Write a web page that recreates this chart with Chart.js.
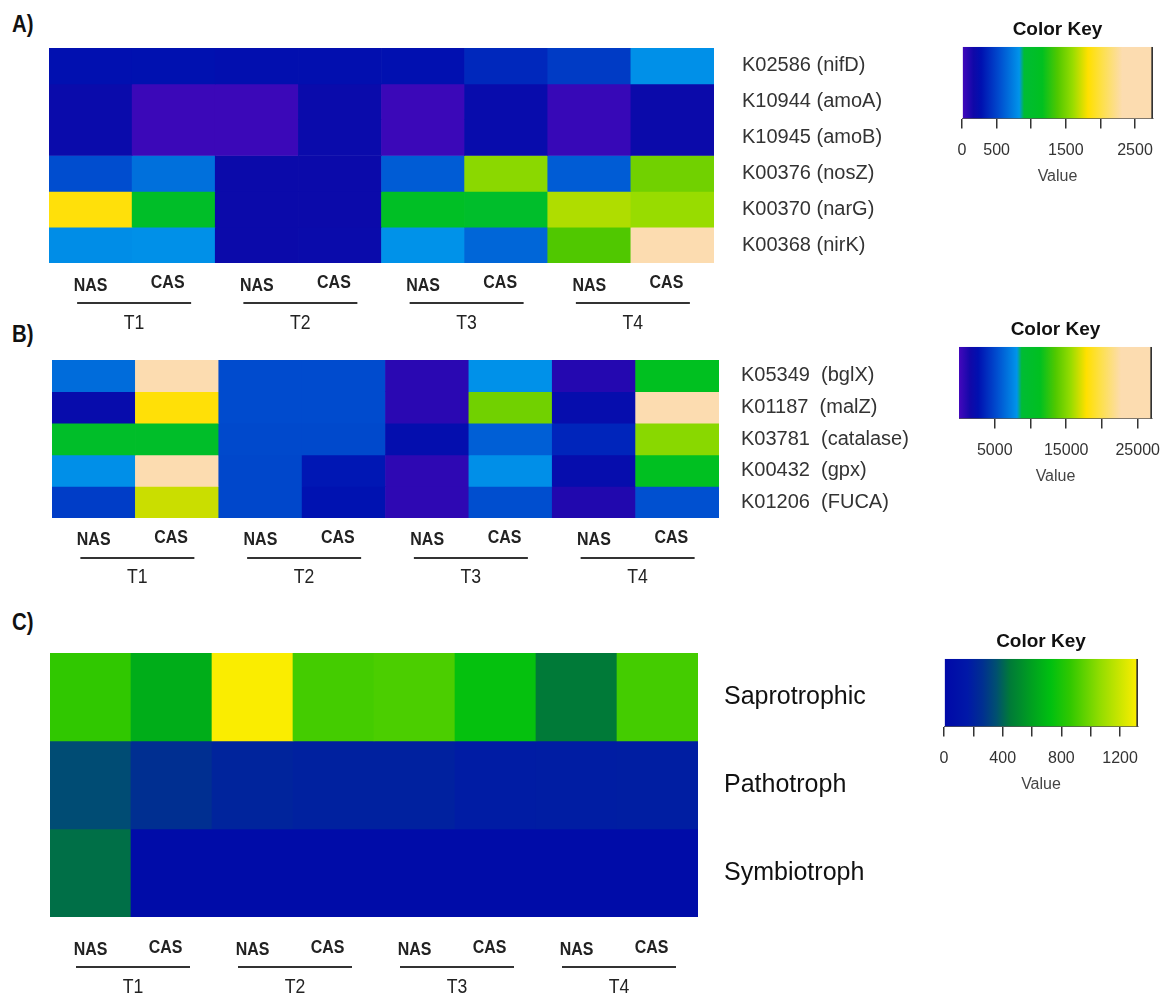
<!DOCTYPE html>
<html>
<head>
<meta charset="utf-8">
<title>Functional gene heatmaps</title>
<script src="https://cdn.jsdelivr.net/npm/chart.js@4.4.1/dist/chart.umd.min.js"></script>
<style>
  html, body { margin: 0; padding: 0; background: #fff; }
  #page { position: relative; width: 1166px; height: 998px; overflow: hidden; }
  canvas { position: absolute; }
  .tag {
    position: absolute;
    font: bold 24px "Liberation Sans", Arial, sans-serif;
    color: #111;
    transform: scaleX(0.85);
    transform-origin: left center;
  }
</style>
</head>
<body>
<div id="page">
  <div class="tag" style="left:12px;top:10px">A)</div>
  <div class="tag" style="left:12px;top:320px">B)</div>
  <div class="tag" style="left:12px;top:608px">C)</div>

  <canvas id="heat-a" width="920" height="340" style="left:0;top:0"></canvas>
  <canvas id="heat-b" width="920" height="260" style="left:0;top:340px"></canvas>
  <canvas id="heat-c" width="920" height="398" style="left:0;top:600px"></canvas>

  <canvas id="key-a" width="271" height="168" style="left:922px;top:18px"></canvas>
  <canvas id="key-b" width="273" height="168" style="left:919px;top:318px"></canvas>
  <canvas id="key-c" width="274" height="164" style="left:904px;top:630px"></canvas>
</div>

<script>
// ---- data ----
const COLS = ["NAS", "CAS", "NAS", "CAS", "NAS", "CAS", "NAS", "CAS"];
const GROUPS = ["T1", "T2", "T3", "T4"];

// A) nitrogen cycle genes
const GENES_A = ["K02586 (nifD)", "K10944 (amoA)", "K10945 (amoB)", "K00376 (nosZ)", "K00370 (narG)", "K00368 (nirK)"];
const nifD = [270, 280, 260, 260, 270, 380, 460, 810];
const amoA = [210, 30, 30, 210, 30, 220, 40, 200];
const amoB = [210, 30, 30, 210, 30, 220, 40, 200];
const nosZ = [540, 680, 200, 200, 600, 1560, 600, 1480];
const narG = [1850, 1060, 200, 200, 1100, 1020, 1650, 1600];
const nirK = [800, 810, 200, 210, 820, 640, 1380, 2600];

// B) carbon / oxidative stress genes
const GENES_B = ["K05349  (bglX)", "K01187  (malZ)", "K03781  (catalase)", "K00432  (gpx)", "K01206  (FUCA)"];
const bglX = [6500, 23500, 5200, 5200, 800, 8000, 1000, 11300];
const malZ = [2200, 18000, 5200, 5200, 800, 14500, 2300, 25500];
const catalase = [10200, 10200, 5100, 5100, 2400, 6000, 3600, 15200];
const gpx = [7900, 23000, 5000, 3000, 700, 7900, 2300, 11200];
const FUCA = [4600, 16700, 5000, 2800, 700, 5300, 1100, 5400];

// C) fungal trophic modes
const TROPHS_C = ["Saprotrophic", "Pathotroph", "Symbiotroph"];
const saprotrophic = [860, 650, 1310, 900, 915, 740, 450, 900];
const pathotroph = [345, 260, 210, 200, 200, 175, 180, 185];
const symbiotroph = [425, 40, 40, 40, 40, 40, 40, 40];

// colour keys
const KEY_A_MAX = 2760;
const KEY_A_TICKS = [0, 500, 1000, 1500, 2000, 2500];
const KEY_A_LABELS = [0, 500, 1500, 2500];
const KEY_B_MAX = 27000;
const KEY_B_TICKS = [5000, 10000, 15000, 20000, 25000];
const KEY_B_LABELS = [5000, 15000, 25000];
const KEY_C_MAX = 1322;
const KEY_C_TICKS = [0, 200, 400, 600, 800, 1000, 1200];
const KEY_C_LABELS = [0, 400, 800, 1200];

// ---- colour ramps ----
const RAMP_AB = [
    [0.00, "#4408bc"],
    [0.06, "#1008a8"],
    [0.10, "#0010b0"],
    [0.20, "#0050d0"],
    [0.30, "#0094ea"],
    [0.325, "#00bc34"],
    [0.42, "#00c020"],
    [0.50, "#50c800"],
    [0.58, "#98dc00"],
    [0.66, "#ffe000"],
    [0.74, "#fde050"],
    [0.84, "#fcdcb0"],
    [1.00, "#fcdcb0"],
];
const RAMP_C = [
    [0.00, "#0008a8"],
    [0.12, "#0018a8"],
    [0.20, "#003090"],
    [0.27, "#005070"],
    [0.34, "#007a38"],
    [0.45, "#00a020"],
    [0.55, "#00c010"],
    [0.65, "#30c800"],
    [0.80, "#90dc00"],
    [1.00, "#ffee00"],
];

function hexRgb(h) {
    const n = parseInt(h.slice(1), 16);
    return [(n >> 16) & 255, (n >> 8) & 255, n & 255];
}

function colorAt(ramp, t) {
    t = Math.max(0, Math.min(1, t));
    for (let i = 1; i < ramp.length; i++) {
        if (t <= ramp[i][0]) {
            const [p0, c0] = ramp[i - 1];
            const [p1, c1] = ramp[i];
            const f = p1 === p0 ? 0 : (t - p0) / (p1 - p0);
            const a = hexRgb(c0), b = hexRgb(c1);
            const rgb = a.map((v, k) => Math.round(v + (b[k] - v) * f));
            return `rgb(${rgb.join(",")})`;
        }
    }
    return ramp[ramp.length - 1][1];
}

// condensed text, like the Arial Narrow labels of the figure
function narrowText(ctx, text, x, y, font, color) {
    ctx.save();
    ctx.translate(x, y);
    ctx.scale(0.84, 1);
    ctx.font = font;
    ctx.fillStyle = color;
    ctx.textAlign = "center";
    ctx.textBaseline = "middle";
    ctx.fillText(text, 0, 0);
    ctx.restore();
}

// row names on the right, NAS/CAS and T1..T4 underneath
const heatLabels = {
    id: "heatLabels",
    afterDraw(chart, args, opts) {
        const { ctx, chartArea, scales } = chart;
        const x = scales.x, y = scales.y;
        ctx.save();
        ctx.font = opts.rowFont;
        ctx.fillStyle = opts.rowColor;
        ctx.textAlign = "left";
        ctx.textBaseline = "middle";
        chart.data.datasets.forEach((ds, i) => {
            ctx.fillText(ds.label, chartArea.right + opts.rowGap, y.getPixelForValue(i + 0.5));
        });

        const b = chartArea.bottom;
        chart.data.labels.forEach((lab, i) => {
            const cas = i % 2 === 1;
            const cx = x.getPixelForValue(i) + (cas ? -6 : 0);
            const cy = b + (cas ? opts.casDy : opts.nasDy);
            narrowText(ctx, lab, cx, cy, 'bold 19px "Liberation Sans", Arial, sans-serif', "#222");
        });

        GROUPS.forEach((g, k) => {
            const gx = (x.getPixelForValue(2 * k) + x.getPixelForValue(2 * k + 1)) / 2 + 2;
            ctx.strokeStyle = "#333";
            ctx.lineWidth = 2;
            ctx.beginPath();
            ctx.moveTo(gx - 57, b + opts.lineDy);
            ctx.lineTo(gx + 57, b + opts.lineDy);
            ctx.stroke();
            narrowText(ctx, g, gx, b + opts.tDy, '21px "Liberation Sans", Arial, sans-serif', "#222");
        });
        ctx.restore();
    },
};

function heatmap(id, names, rows, ramp, max, padding, labelOpts) {
    const el = document.getElementById(id);
    return new Chart(el.getContext("2d"), {
        type: "bar",
        data: {
            labels: COLS,
            datasets: rows.map((vals, r) => ({
                label: names[r],
                data: COLS.map(() => 1),
                backgroundColor: vals.map((v) => colorAt(ramp, v / max)),
                borderWidth: 0,
                barPercentage: 1,
                categoryPercentage: 1,
            })),
        },
        options: {
            responsive: false,
            animation: false,
            layout: { padding },
            scales: {
                x: { display: false, stacked: true },
                y: { display: false, stacked: true, reverse: true, min: 0, max: rows.length },
            },
            plugins: {
                legend: { display: false },
                tooltip: { enabled: false },
                heatLabels: labelOpts,
            },
        },
        plugins: [heatLabels],
    });
}

function colorKey(id, ramp, max, ticks, labels) {
    const el = document.getElementById(id);
    return new Chart(el.getContext("2d"), {
        type: "bar",
        data: {
            labels: ["key"],
            datasets: [
                {
                    data: [[0, max]],
                    backgroundColor: (c) => {
                        const area = c.chart.chartArea;
                        if (!area) return "#888";
                        const g = c.chart.ctx.createLinearGradient(area.left, 0, area.right, 0);
                        ramp.forEach(([p, col]) => g.addColorStop(p, col));
                        return g;
                    },
                    borderColor: "#333",
                    borderWidth: { top: 0, left: 0, bottom: 0, right: 2 },
                    borderSkipped: false,
                    barPercentage: 1,
                    categoryPercentage: 1,
                },
            ],
        },
        options: {
            indexAxis: "y",
            responsive: false,
            animation: false,
            layout: { padding: { left: 40, right: 40, top: 0, bottom: 0 } },
            scales: {
                y: { display: false },
                x: {
                    min: 0,
                    max: max,
                    afterBuildTicks: (scale) => {
                        scale.ticks = ticks.map((v) => ({ value: v }));
                    },
                    grid: {
                        display: true,
                        drawOnChartArea: false,
                        drawTicks: true,
                        tickLength: 10,
                        color: "#333",
                        lineWidth: 1.5,
                    },
                    border: { display: true, color: "#555", width: 1 },
                    ticks: {
                        padding: 12,
                        maxRotation: 0,
                        autoSkip: false,
                        color: "#333",
                        font: { family: '"Liberation Sans", Arial, sans-serif', size: 16 },
                        callback: (v) => (labels.includes(v) ? String(v) : ""),
                    },
                    title: {
                        display: true,
                        text: "Value",
                        color: "#444",
                        padding: { top: -5, bottom: 0 },
                        font: { family: '"Liberation Sans", Arial, sans-serif', size: 16 },
                    },
                },
            },
            plugins: {
                legend: { display: false },
                tooltip: { enabled: false },
                title: {
                    display: true,
                    text: "Color Key",
                    color: "#111",
                    padding: { top: 0, bottom: 6 },
                    font: { family: '"Liberation Sans", Arial, sans-serif', size: 19, weight: "bold" },
                },
            },
        },
    });
}

heatmap("heat-a", GENES_A, [nifD, amoA, amoB, nosZ, narG, nirK], RAMP_AB, KEY_A_MAX,
    { left: 49, right: 206, top: 48, bottom: 77 },
    { rowFont: '20px "Liberation Sans", Arial, sans-serif', rowColor: "#333", rowGap: 28,
      nasDy: 23, casDy: 20, lineDy: 40, tDy: 60 });

heatmap("heat-b", GENES_B, [bglX, malZ, catalase, gpx, FUCA], RAMP_AB, KEY_B_MAX,
    { left: 52, right: 201, top: 20, bottom: 82 },
    { rowFont: '20px "Liberation Sans", Arial, sans-serif', rowColor: "#333", rowGap: 22,
      nasDy: 22, casDy: 20, lineDy: 40, tDy: 59 });

heatmap("heat-c", TROPHS_C, [saprotrophic, pathotroph, symbiotroph], RAMP_C, KEY_C_MAX,
    { left: 50, right: 222, top: 53, bottom: 81 },
    { rowFont: '25px "Liberation Sans", Arial, sans-serif', rowColor: "#111", rowGap: 26,
      nasDy: 33, casDy: 31, lineDy: 50, tDy: 70 });

colorKey("key-a", RAMP_AB, KEY_A_MAX, KEY_A_TICKS, KEY_A_LABELS);
colorKey("key-b", RAMP_AB, KEY_B_MAX, KEY_B_TICKS, KEY_B_LABELS);
colorKey("key-c", RAMP_C, KEY_C_MAX, KEY_C_TICKS, KEY_C_LABELS);
</script>
</body>
</html>
